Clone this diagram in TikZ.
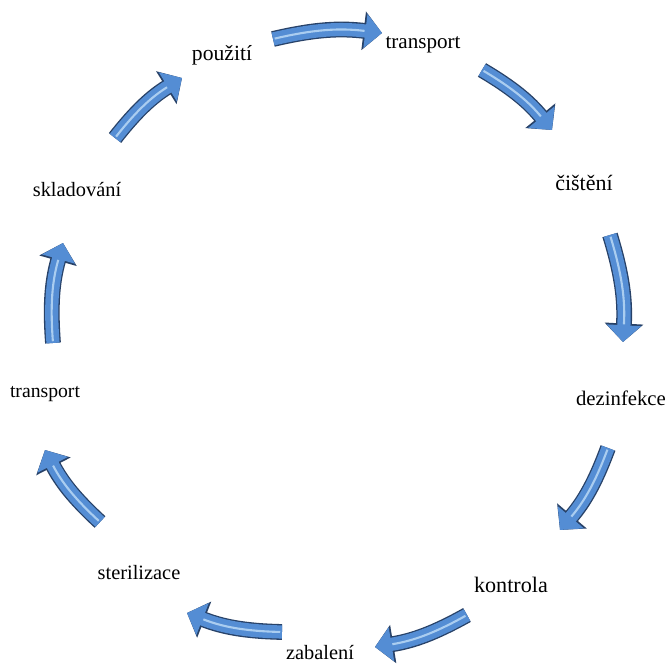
\documentclass[tikz,border=0pt]{standalone}
\usepackage{fontspec}
\setmainfont{Liberation Serif}
\usetikzlibrary{arrows.meta}
\definecolor{arrowblue}{RGB}{84,141,212}
\definecolor{arrowdark}{RGB}{40,66,104}
\definecolor{arrowlight}{RGB}{170,205,240}

\begin{document}
\begin{tikzpicture}[
  stage/.style={inner sep=0pt, font=\fontsize{12}{14}\selectfont},
  cyclearrow/.style={line width=7.5pt, draw=arrowblue,
    -{Triangle[width=19pt, length=9.5pt]},
    preaction={draw=arrowdark, line width=9pt, -{Triangle[width=21.5pt, length=10.5pt]}},
    postaction={draw=arrowlight, line width=1.2pt, -, shorten >=10pt, shorten <=1pt}}]

 \fill[white] (0,0) rectangle (13.38,13.28);
 \useasboundingbox (0,0) rectangle (13.38,13.28);

 % Stages
 \node[stage, font=\fontsize{12.3}{14}\selectfont] (pouziti) at (4.44,12.18) {použití};
 \node[stage] (transportA) at (8.46,12.38) {transport};
 \node[stage, font=\fontsize{12.5}{14}\selectfont] (cisteni) at (11.68,9.62) {čištění};
 \node[stage, font=\fontsize{11.8}{14}\selectfont] (dezinfekce) at (12.42,5.32) {dezinfekce};
 \node[stage, font=\fontsize{12.6}{14}\selectfont] (kontrola) at (10.22,1.58) {kontrola};
 \node[stage, font=\fontsize{11.6}{14}\selectfont] (zabaleni) at (6.4,0.22) {zabalení};
 \node[stage, font=\fontsize{11.6}{14}\selectfont] (sterilizace) at (2.78,1.82) {sterilizace};
 \node[stage, font=\fontsize{11.2}{14}\selectfont] (transportB) at (0.9,5.4) {transport};
 \node[stage, font=\fontsize{11.6}{14}\selectfont] (skladovani) at (1.54,9.48) {skladování};

 % Arrow ends
 \coordinate (a1s) at (5.46,12.5);  \coordinate (a1e) at (7.64,12.62);
 \coordinate (a2s) at (9.64,11.88); \coordinate (a2e) at (11.04,10.68);
 \coordinate (a3s) at (12.2,8.58);  \coordinate (a3e) at (12.46,6.44);
 \coordinate (a4s) at (12.16,4.32); \coordinate (a4e) at (11.2,2.68);
 \coordinate (a5s) at (9.34,0.98);  \coordinate (a5e) at (7.5,0.34);
 \coordinate (a6s) at (5.64,0.64);  \coordinate (a6e) at (3.74,1.02);
 \coordinate (a7s) at (2.0,2.84);   \coordinate (a7e) at (0.9,4.28);
 \coordinate (a8s) at (1.06,6.42);  \coordinate (a8e) at (1.26,8.42);
 \coordinate (a9s) at (2.3,10.52);  \coordinate (a9e) at (3.64,11.72);

 % Cycle arrows
 \foreach \i in {1,...,9}
   \draw[cyclearrow] (a\i s) to[bend left=10] (a\i e);

\end{tikzpicture}
\end{document}
